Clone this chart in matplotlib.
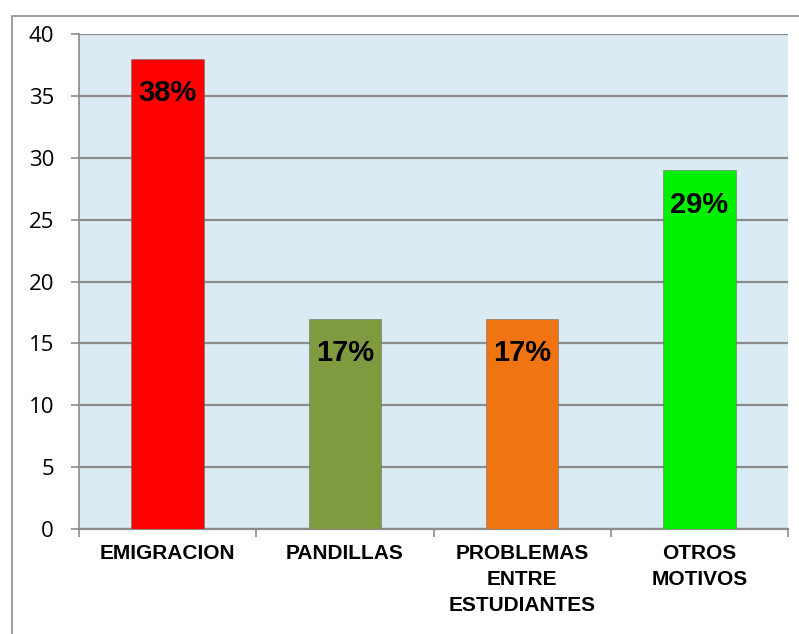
import matplotlib.pyplot as plt
from matplotlib.patches import Rectangle

categorias = ['EMIGRACION', 'PANDILLAS', 'PROBLEMAS\nENTRE\nESTUDIANTES', 'OTROS\nMOTIVOS']
valores = [38, 17, 17, 29]
etiquetas = ['38%', '17%', '17%', '29%']
colores = ['#FF0000', '#7F9A3F', '#F07412', '#00F000']

W, H = 799, 634
fig = plt.figure(figsize=(W / 100, H / 100), dpi=100)

# marco exterior del grafico
fig.patches.append(Rectangle((12 / W, -0.01), 1.0, 1 - 16 / H + 0.01,
                             transform=fig.transFigure, fill=False,
                             edgecolor='#8c8c8c', linewidth=1.2))

ax = fig.add_axes([79 / W, 1 - 529 / H, (788 - 79) / W, (529 - 34) / H])
ax.set_facecolor('#DAEBF3')

x = range(len(categorias))
barras = ax.bar(x, valores, width=0.41, color=colores, edgecolor='#6f6f6f',
                linewidth=0.4, zorder=3)

for b, t in zip(barras, etiquetas):
    ax.annotate(t, (b.get_x() + b.get_width() / 2, b.get_height()),
                xytext=(0, -25), textcoords='offset points', ha='center', va='center',
                fontsize=21, fontweight='bold', family='Liberation Sans', zorder=4)

ax.set_ylim(0, 40)
ax.set_xlim(-0.5, 3.5)
ax.set_yticks(range(0, 41, 5))
ax.yaxis.grid(True, color='#8c8c8c', linewidth=1.6, zorder=1)
ax.tick_params(axis='y', labelsize=16, length=6, width=1.2, color='#8c8c8c', pad=12)
for lbl in ax.get_yticklabels():
    lbl.set_family('Open Sans')

ax.set_xticks([-0.5, 0.5, 1.5, 2.5, 3.5], minor=False)
ax.set_xticklabels([])
ax.tick_params(axis='x', length=6, color='#8c8c8c', width=1.2)
ax.set_xticks(list(x), minor=True)
ax.set_xticklabels(categorias, minor=True, fontsize=15, fontweight='bold',
                   family='Liberation Sans', linespacing=1.45, va='top')
ax.tick_params(axis='x', which='minor', length=0, pad=11)

for s in ['top', 'right']:
    ax.spines[s].set_visible(False)
ax.spines['left'].set_color('#8c8c8c')
ax.spines['bottom'].set_color('#8c8c8c')
ax.spines['left'].set_linewidth(1.2)
ax.spines['bottom'].set_linewidth(1.6)

fig.savefig('out.png', dpi=100)
